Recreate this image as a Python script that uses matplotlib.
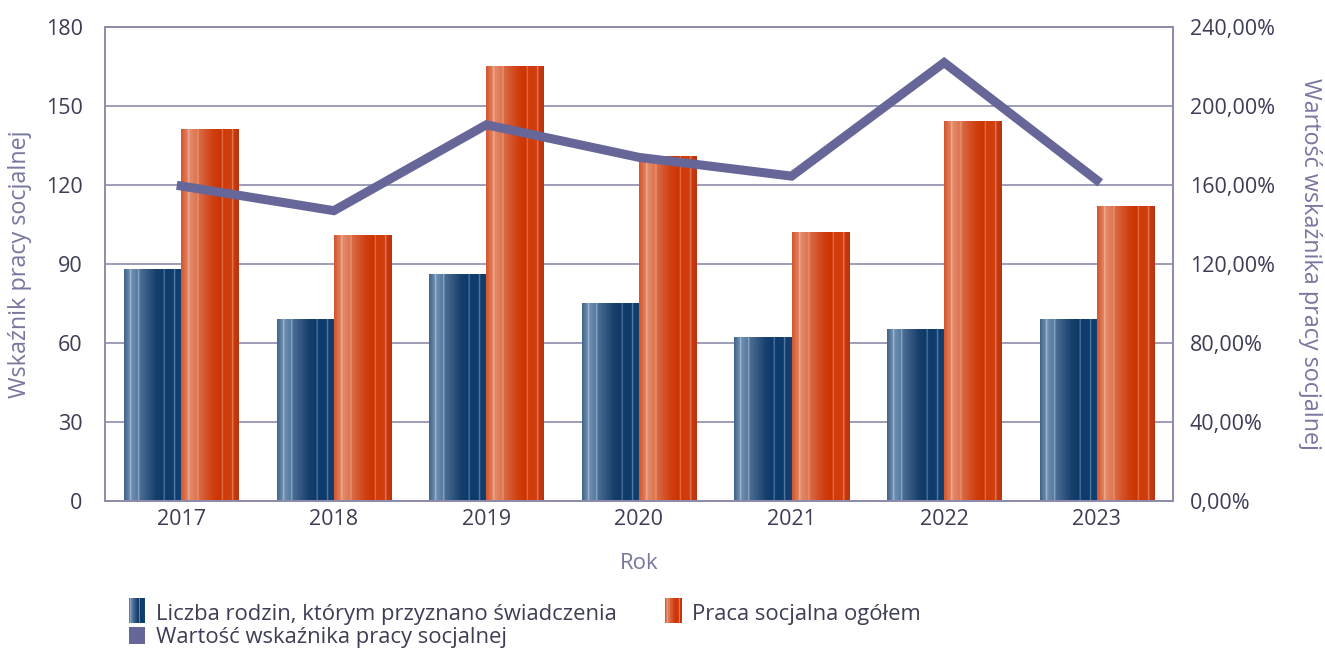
import matplotlib
matplotlib.use("Agg")
import matplotlib.pyplot as plt
import numpy as np
from matplotlib.colors import LinearSegmentedColormap
from matplotlib.patches import Rectangle
from matplotlib.legend_handler import HandlerBase

# ---------------- data ----------------
years = ["2017", "2018", "2019", "2020", "2021", "2022", "2023"]
families = [88, 69, 86, 75, 62, 65, 69]
social_work = [141, 101, 165, 131, 102, 144, 112]
indicator_pct = [159.5, 147, 190.5, 174, 164.5, 222, 162.5]

label_families = "Liczba rodzin, którym przyznano świadczenia"
label_work = "Praca socjalna ogółem"
label_ind = "Wartość wskaźnika pracy socjalnej"

left_ticks = [0, 30, 60, 90, 120, 150, 180]
right_ticks = [0, 40, 80, 120, 160, 200, 240]

# ---------------- style ----------------
plt.rcParams['font.family'] = ['Open Sans', 'DejaVu Sans']
TICK_C = "#3d3d55"
LABEL_C = "#7777a0"
GRID_C = "#8c8cab"
LINE_C = "#666699"

blue_stops = [(0.00, "#3f6389"), (0.10, "#6f8db0"), (0.11, "#b9cde0"), (0.13, "#6f8db0"),
              (0.24, "#557aa0"), (0.25, "#a9c0d8"), (0.27, "#4d6f96"), (0.55, "#173f6c"),
              (0.68, "#0d3a6b"), (0.69, "#6f8fb5"), (0.71, "#0e3b6c"), (0.86, "#0f3d6e"),
              (0.87, "#7f9dc0"), (0.89, "#0f3d6e"), (1.00, "#17406c")]
orange_stops = [(0.00, "#d2552c"), (0.12, "#e28462"), (0.13, "#f5c0a8"), (0.15, "#e38a6a"),
                (0.28, "#dc7550"), (0.29, "#f3a88a"), (0.31, "#d96a45"), (0.55, "#cf3f10"),
                (0.70, "#cc3300"), (0.71, "#f08a68"), (0.73, "#cf3a08"), (0.88, "#d2400f"),
                (0.89, "#ef9a7a"), (0.91, "#c83a10"), (1.00, "#b9350f")]
blue_cmap = LinearSegmentedColormap.from_list("b", blue_stops, N=512)
orange_cmap = LinearSegmentedColormap.from_list("o", orange_stops, N=512)
grad = np.linspace(0, 1, 512).reshape(1, -1)

fig = plt.figure(figsize=(13.25, 6.48), dpi=100)
ax = fig.add_axes([0.0792, 0.2269, 0.8061, 0.7314])
ax2 = ax.twinx()

x = np.arange(len(years))
w = 0.375
bars_b = ax.bar(x - w / 2, families, w, color="none", zorder=2)
bars_o = ax.bar(x + w / 2, social_work, w, color="none", zorder=2)
for bars, cm in ((bars_b, blue_cmap), (bars_o, orange_cmap)):
    for b in bars:
        x0, wd, h = b.get_x(), b.get_width(), b.get_height()
        ax.imshow(grad, cmap=cm, aspect="auto", extent=(x0, x0 + wd, 0, h),
                  zorder=2, interpolation="bilinear")

ax.set_xlim(-0.5, len(years) - 0.5)
ax.set_ylim(0, 180)
ax.set_yticks(left_ticks)
ax.set_xticks(x)
ax.set_xticklabels(years)
ax.yaxis.grid(True, color=GRID_C, linewidth=1.2, zorder=1)
ax.set_axisbelow(True)
for s in ax.spines.values():
    s.set_color(GRID_C)
    s.set_linewidth(1.2)
ax.tick_params(axis="both", length=0, colors=TICK_C, labelsize=15.5)
ax.tick_params(axis="x", pad=6)
ax.tick_params(axis="y", pad=16)
ax.set_ylabel("Wskaźnik pracy socjalnej", color=LABEL_C, fontsize=16.8, labelpad=10)
ax.set_xlabel("Rok", color=LABEL_C, fontsize=16, labelpad=16)

ax2.plot(x, indicator_pct, color=LINE_C, linewidth=6.5, zorder=5, solid_joinstyle="miter")
ax2.set_ylim(0, 240)
ax2.set_yticks(right_ticks)
ax2.set_yticklabels([f"{v},00%" for v in right_ticks])
ax2.tick_params(axis="y", length=0, colors=TICK_C, labelsize=15.5, pad=12)
for s in ax2.spines.values():
    s.set_color(GRID_C)
    s.set_linewidth(1.2)
ax2.set_ylabel("Wartość wskaźnika pracy socjalnej", color=LABEL_C, fontsize=16.8,
               rotation=270, labelpad=34)


class StripeHandler(HandlerBase):
    def __init__(self, cmap):
        super().__init__()
        self.cmap = cmap

    def create_artists(self, legend, orig_handle, xd, yd, width, height, fontsize, trans):
        n = 24
        arts = []
        for i in range(n):
            r = Rectangle((xd + width * i / n, yd - height * 0.25), width / n + 0.3, height * 1.5,
                          facecolor=self.cmap((i + 0.5) / n), edgecolor="none", transform=trans)
            arts.append(r)
        return arts


h_b = Rectangle((0, 0), 1, 1, facecolor="#1e4470")
h_o = Rectangle((0, 0), 1, 1, facecolor="#cc3300")
h_l = Rectangle((0, 0), 1, 1, facecolor=LINE_C)
leg = fig.legend([h_b, h_l, h_o], [label_families, label_ind, label_work],
                 ncol=2, loc="lower left", bbox_to_anchor=(0.097, 0.0),
                 frameon=False, fontsize=15.8, handlelength=0.75, handleheight=0.8,
                 handletextpad=0.5, labelspacing=0.1, columnspacing=2.2,
                 borderaxespad=0, borderpad=0,
                 handler_map={h_b: StripeHandler(blue_cmap), h_o: StripeHandler(orange_cmap)})
for t in leg.get_texts():
    t.set_color(TICK_C)

fig.savefig("out.png", dpi=100)
